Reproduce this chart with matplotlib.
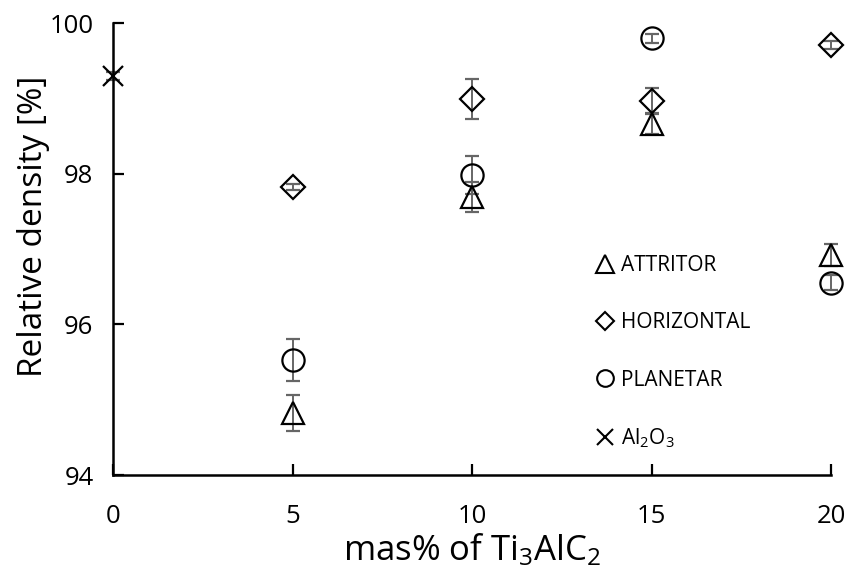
import matplotlib.pyplot as plt
from matplotlib.lines import Line2D
import numpy as np

plt.rcParams['font.family'] = ['Open Sans', 'DejaVu Sans']
plt.rcParams['mathtext.default'] = 'regular'

# values
mass = [5, 10, 15, 20]
attritor = [94.82, 97.69, 98.66, 96.92]
attritor_err = [0.24, 0.20, 0.13, 0.15]
horizontal = [97.82, 98.99, 98.97, 99.71]
horizontal_err = [0.04, 0.27, 0.17, 0.05]
planetar = [95.53, 97.98, 99.80, 96.55]
planetar_err = [0.28, 0.25, 0.06, 0.10]
al2o3_mass = [0]
al2o3 = [99.30]
al2o3_err = [0.05]

labels = ['ATTRITOR', 'HORIZONTAL', 'PLANETAR', 'Al$_2$O$_3$']

fig = plt.figure(figsize=(8.46, 5.77), dpi=100)
ax = fig.add_axes([113/846, 102/577, 718/846, 452/577])

ecol = '#666666'
kw = dict(linestyle='none', mfc='none', mec='black', mew=1.6,
          ecolor=ecol, elinewidth=1.4, capsize=5, capthick=1.4)
series = [(mass, attritor, attritor_err, '^', 16),
          (mass, horizontal, horizontal_err, 'D', 12),
          (mass, planetar, planetar_err, 'o', 16),
          (al2o3_mass, al2o3, al2o3_err, 'x', 15)]
for xs, ys, es, m, s in series:
    cont = ax.errorbar(xs, ys, yerr=es, marker=m, ms=s, **kw)
    for art in cont.get_children():
        art.set_clip_on(False)

ax.set_xlim(0, 20)
ax.set_ylim(94, 100)
ax.set_xticks([0, 5, 10, 15, 20])
ax.set_yticks([94, 96, 98, 100])
for s in ['top', 'right']:
    ax.spines[s].set_visible(False)
for s in ['left', 'bottom']:
    ax.spines[s].set_linewidth(1.8)
ax.tick_params(direction='in', length=8, width=1.6, labelsize=18.5)
ax.tick_params(axis='x', pad=21)
ax.tick_params(axis='y', pad=14)

ax.set_xlabel('mas% of Ti$_3$AlC$_2$', fontsize=25)
ax.set_ylabel('Relative density [%]', fontsize=24)
ax.xaxis.set_label_coords(0.5, -0.125)
ax.yaxis.set_label_coords(-0.088, 0.55)

handles = [Line2D([], [], linestyle='none', marker=m, ms=s, mfc='none',
                  mec='black', mew=1.5)
           for m, s in [('^', 13), ('D', 9), ('o', 12), ('x', 12)]]
ax.legend(handles, labels, loc='upper left', bbox_to_anchor=(596/846, 1 - 255/577),
          bbox_transform=fig.transFigure, frameon=False, fontsize=15,
          handlelength=0.9, handletextpad=0.3, labelspacing=1.74,
          borderpad=0, borderaxespad=0)

fig.savefig('out.png', dpi=100)
